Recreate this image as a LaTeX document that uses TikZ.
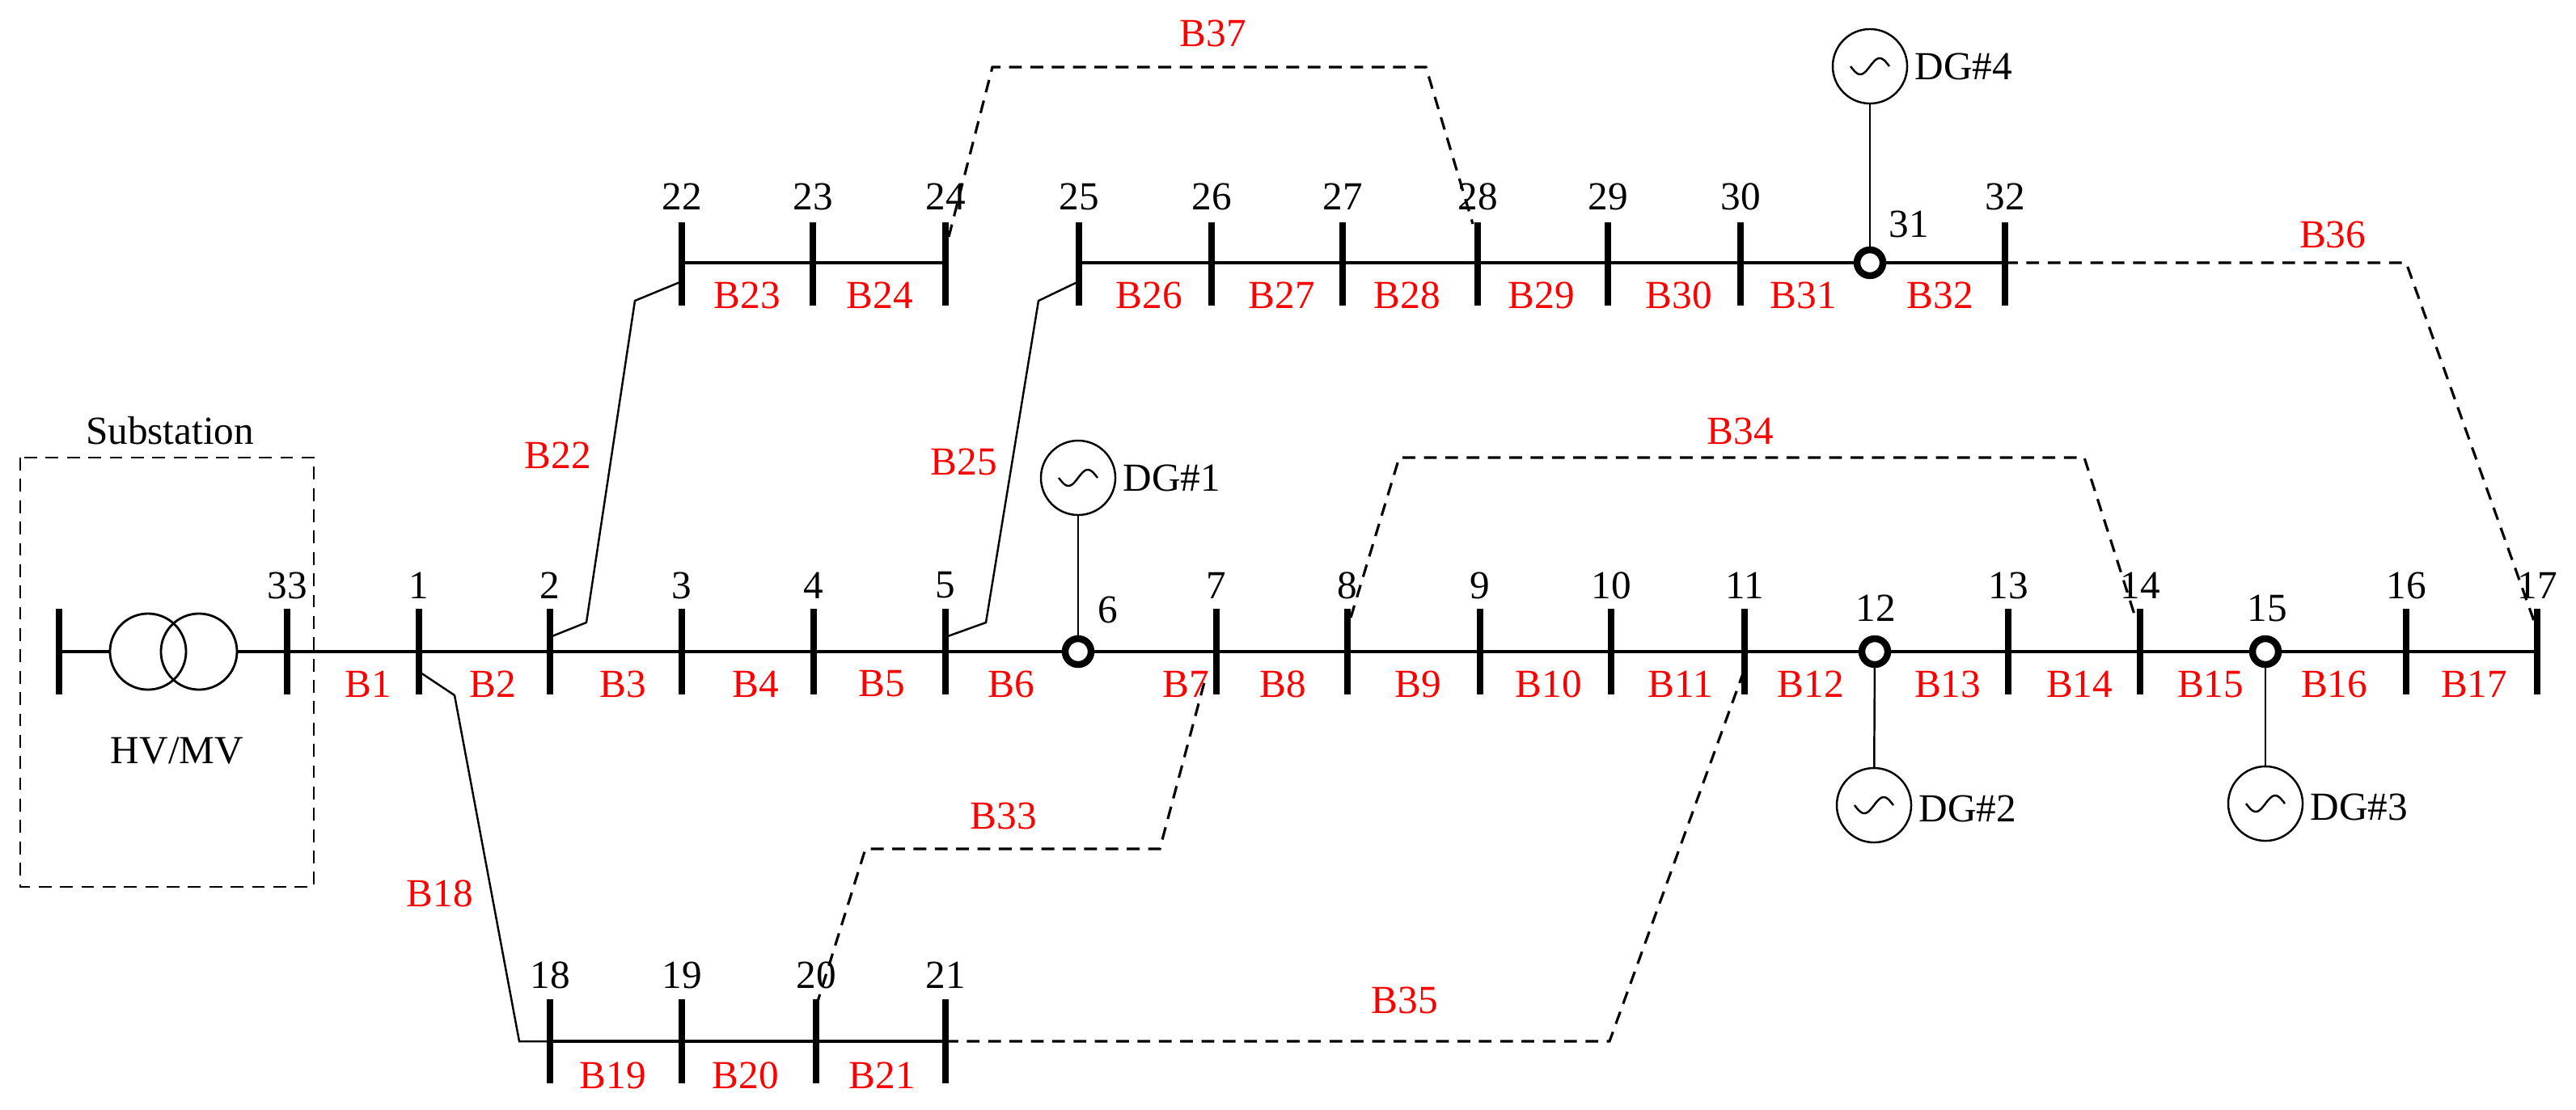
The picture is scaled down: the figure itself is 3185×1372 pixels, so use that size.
\documentclass[tikz,border=0pt]{standalone}
\usepackage{fontspec}
\setmainfont{Liberation Serif}
\begin{document}
\begin{tikzpicture}[x=0.01cm,y=-0.01cm,
  bar/.style={line width=2.4pt},
  ln/.style={line width=1.2pt},
  br/.style={line width=0.7pt},
  tie/.style={line width=0.9pt,dash pattern=on 4.5pt off 3pt},
  num/.style={font=\fontsize{14}{14}\selectfont,inner sep=0pt},
  blab/.style={num,text=red},
  node circ/.style={draw,circle,line width=2.4pt,minimum size=0.32cm,inner sep=0pt,fill=white},
  dg/.style={draw,circle,line width=0.7pt,minimum size=0.92cm,inner sep=0pt,fill=white},
  tf/.style={draw,circle,line width=0.8pt,minimum width=0.90cm,minimum height=0.94cm,inner sep=0pt}]
\useasboundingbox (0,0) rectangle (3185,1372);
% substation
\draw[tie,line width=0.8pt] (25,566) rectangle (388,1097);
\node[num] (sub) at (210,533) {Substation};
\node[num] (hvmv) at (219,929) {HV/MV};
\coordinate (b0) at (73,806);
\draw[bar] (73,753)--(73,859);
\node[tf] (tr1) at (183,806) {};
\node[tf] (tr2) at (246,806) {};
\draw[ln] (b0) -- (tr1.west);
% main feeder
\coordinate (b17) at (3137,806);
\draw[ln] (tr2.east) -- (b17);
\foreach \n/\x in {33/355,1/518,2/680,3/843,4/1006,5/1169,7/1504,8/1666,9/1830,10/1992,11/2157,13/2483,14/2646,16/2975,17/3137}{
  \coordinate (b\n) at (\x,806);
  \draw[bar] (\x,753)--(\x,859);
  \node[num] (n\n) at (\x,724) {\n};}
% top feeders
\draw[ln] (843,325) -- (1169,325);
\draw[ln] (1334,325) -- (2479,325);
\foreach \n/\x in {22/843,23/1005,24/1169,25/1334,26/1498,27/1660,28/1827,29/1988,30/2152,32/2479}{
  \coordinate (b\n) at (\x,325);
  \draw[bar] (\x,275)--(\x,378);
  \node[num] (n\n) at (\x,243) {\n};}
% bottom feeder
\draw[ln] (680,1288) -- (1169,1288);
\foreach \n/\x in {18/680,19/843,20/1009,21/1169}{
  \coordinate (b\n) at (\x,1288);
  \draw[bar] (\x,1236)--(\x,1340);
  \node[num] (n\n) at (\x,1206) {\n};}
% laterals
\coordinate (p18a) at (520,832); \coordinate (p18b) at (562,860); \coordinate (p18c) at (642,1288);
\draw[br] (p18a)--(p18b)--(p18c)--(b18);
\coordinate (p22a) at (680,788); \coordinate (p22b) at (725,770); \coordinate (p22c) at (785,372); \coordinate (p22d) at (843,348);
\draw[br] (p22a)--(p22b)--(p22c)--(p22d);
\coordinate (p25a) at (1169,788); \coordinate (p25b) at (1219,770); \coordinate (p25c) at (1284,372); \coordinate (p25d) at (1334,348);
\draw[br] (p25a)--(p25b)--(p25c)--(p25d);
% tie lines
\coordinate (t33a) at (1009,1245); \coordinate (t33b) at (1070,1050); \coordinate (t33c) at (1434,1050); \coordinate (t33d) at (1489,844);
\draw[tie] (t33a)--(t33b)--(t33c)--(t33d);
\coordinate (t35b) at (1990,1288); \coordinate (t35c) at (2155,833);
\draw[tie] (b21)--(t35b)--(t35c);
\coordinate (t34a) at (1670,764); \coordinate (t34b) at (1730,566); \coordinate (t34c) at (2577,566); \coordinate (t34d) at (2639,760);
\draw[tie] (t34a)--(t34b)--(t34c)--(t34d);
\coordinate (t36b) at (2975,325); \coordinate (t36c) at (3133,768);
\draw[tie] (b32)--(t36b)--(t36c);
\coordinate (t37a) at (1173,293); \coordinate (t37b) at (1227,83); \coordinate (t37c) at (1763,83); \coordinate (t37d) at (1821,277);
\draw[tie] (t37a)--(t37b)--(t37c)--(t37d);
% DG buses
\node[dg] (dg1) at (1333,591) {};
\node[dg] (dg2) at (2317,996) {};
\node[dg] (dg3) at (2801,994) {};
\node[dg] (dg4) at (2312,82) {};
\node[node circ] (b6) at (1333,806) {};
\node[node circ] (b12) at (2318,806) {};
\node[node circ] (b15) at (2801,806) {};
\node[node circ] (b31) at (2312,325) {};
\draw[br] (dg1) -- (b6);
\draw[br] (dg2) -- (b12);
\draw[br] (dg3) -- (b15);
\draw[br] (dg4) -- (b31);
\foreach \d in {dg1,dg2,dg3,dg4}{
  \draw[line width=0.7pt,shift={(\d.center)},domain=-1:1,samples=30,smooth] plot ({\x*24},{-10*sin(\x*180)});}
\node[num,anchor=west] (l1) at (1388,591) {DG\#1};
\node[num,anchor=west] (l2) at (2372,1000) {DG\#2};
\node[num,anchor=west] (l3) at (2856,998) {DG\#3};
\node[num,anchor=west] (l4) at (2367,82) {DG\#4};
\node[num] (n6) at (1370,754) {6};
\node[num] (n12) at (2319,752) {12};
\node[num] (n15) at (2803,752) {15};
\node[num] (n31) at (2360,277) {31};
% branch labels
\foreach \t/\x/\y in {B1/455/846,B2/609/846,B3/770/846,B4/934/846,B5/1090/846,B6/1250/846,B7/1466/846,B8/1586/846,B9/1753/846,B10/1915/846,B11/2078/846,B12/2239/846,B13/2408/846,B14/2571/846,B15/2733/846,B16/2886/846,B17/3059/846,
  B23/924/365,B24/1088/365,B26/1421/365,B27/1585/365,B28/1740/365,B29/1906/365,B30/2076/365,B31/2230/365,B32/2399/365,
  B19/758/1330,B20/922/1330,B21/1091/1330,
  B22/690/563,B25/1192/571,B18/544/1105,B33/1241/1009,B35/1737/1237,B34/2152/533,B36/2884/290,B37/1500/41}{
  \node[blab] (l\t) at (\x,\y) {\t};}
\end{tikzpicture}
\end{document}
